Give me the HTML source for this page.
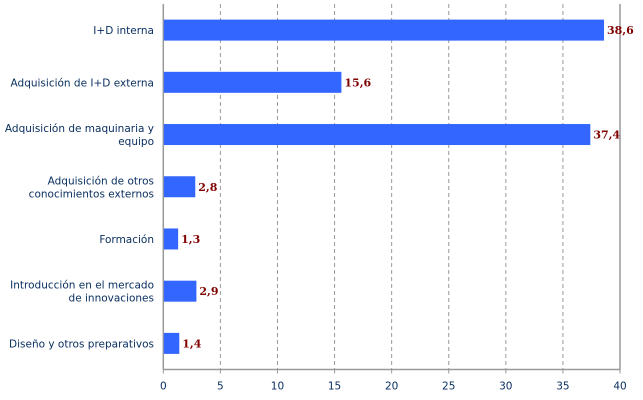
<!DOCTYPE html>
<html><head><meta charset="utf-8"><style>
html,body{margin:0;padding:0;background:#fff;width:643px;height:400px;overflow:hidden}
svg{display:block}
.cat{font-family:"DejaVu Sans","Liberation Sans",sans-serif;font-size:10.5px;fill:#0b3060}
.val{font-family:"DejaVu Serif","Liberation Serif",serif;font-size:11px;font-weight:bold;fill:#800000}
.tick{font-family:"DejaVu Sans","Liberation Sans",sans-serif;font-size:10.5px;fill:#0b3060}
</style></head><body>
<svg id="chart" width="643" height="400"></svg>
<script>
const categories=[["I+D interna"],["Adquisición de I+D externa"],["Adquisición de maquinaria y","equipo"],["Adquisición de otros","conocimientos externos"],["Formación"],["Introducción en el mercado","de innovaciones"],["Diseño y otros preparativos"]];
const values=[38.6,15.6,37.4,2.8,1.3,2.9,1.4];
const valueLabels=["38,6","15,6","37,4","2,8","1,3","2,9","1,4"];
const ticks=[0,5,10,15,20,25,30,35,40];
const svg=document.getElementById('chart');
const NS="http://www.w3.org/2000/svg";
const X0=163.3,X1=620,T=4,B=369.5,MAX=40;
const x=v=>X0+(X1-X0)*v/MAX;
const band=(B-T)/categories.length;
const yc=i=>T+band*(i+0.5);
function mk(tag,attrs,parent){const e=document.createElementNS(NS,tag);for(const k in attrs)e.setAttribute(k,attrs[k]);(parent||svg).appendChild(e);return e;}
ticks.forEach((t,i)=>{
  if(t>0&&t<MAX){const g=mk('line',{x1:x(t),x2:x(t),y1:T,y2:B,stroke:'#999','stroke-dasharray':'4,3','stroke-width':1});
  
  }
  const tk=mk('line',{x1:x(t),x2:x(t),y1:B,y2:B+4,stroke:'#999'});
  
  
  const lb=mk('text',{x:x(t),y:B+20,'text-anchor':'middle',class:'tick'});lb.textContent=t;
  
  
});
const ax=mk('line',{x1:X0,x2:X0,y1:T,y2:B,stroke:'#999','stroke-width':1.5});


const rx=mk('line',{x1:X1,x2:X1,y1:T,y2:B,stroke:'#999','stroke-width':1.5});


const bx=mk('line',{x1:X0,x2:X1,y1:B,y2:B,stroke:'#999','stroke-width':1.5});


categories.forEach((c,i)=>{
  const r=mk('rect',{x:X0+0.5,y:yc(i)-10.5,width:x(values[i])-X0-0.5,height:21,fill:'#3366ff'});
  
  
  const v=mk('text',{x:x(values[i])+3,y:yc(i)+4,class:'val'});v.textContent=valueLabels[i];
  
  
  const t=mk('text',{x:154,y:yc(i)+4-(c.length-1)*6.5,'text-anchor':'end',class:'cat'});
  
  
  c.forEach((line,j)=>{const s=mk('tspan',{x:154,dy:j?13:0},t);s.textContent=line;});
});
</script>
</body></html>
